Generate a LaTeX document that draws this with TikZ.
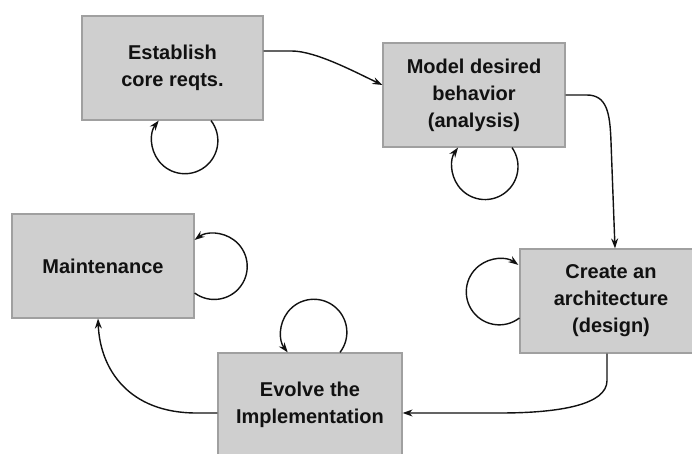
\documentclass[tikz,border=0pt]{standalone}
\usepackage{fontspec}
\setmainfont{Liberation Sans}
\usetikzlibrary{arrows.meta}
\definecolor{boxfill}{HTML}{CFCFCF}
\definecolor{boxline}{HTML}{A0A0A0}
\definecolor{ink}{HTML}{111111}
\tikzset{
  stagebox/.style={draw=boxline, line width=1.2pt, fill=boxfill, minimum width=182pt, minimum height=104pt,
    inner sep=0pt, align=center, text=ink, font=\bfseries\fontsize{20}{27}\selectfont},
  flow/.style={draw=ink, line width=1.4pt, -{Stealth[length=10pt,width=7pt]}},
}
\begin{document}
\begin{tikzpicture}[x=1pt,y=1pt]
\useasboundingbox (0,0) rectangle (692,454);
\clip (0,0) rectangle (692,454);
\fill[white] (0,0) rectangle (692,454);
% boxes
\node[stagebox, minimum width=181pt] (b1) at (172.5,386) {Establish\\core reqts.};
\node[stagebox] (b2) at (474,359) {Model desired\\behavior\\(analysis)};
\node[stagebox] (b3) at (611,153) {Create an\\architecture\\(design)};
\node[stagebox] (b4) at (103,188) {Maintenance};
\node[stagebox, minimum width=184pt] (b5) at (310,49) {Evolve the\\Implementation};
% main flow
\draw[flow] ([yshift=17pt]b1.east) -- ++(28,0) .. controls +(24,0) and (355,382) .. ([yshift=10pt]b2.west);
\draw[flow] (b2.east) -- ++(21,0) .. controls +(20,0) and (610,342) .. (611,312) -- ([xshift=4pt]b3.north);
\draw[flow] ([xshift=-4pt]b3.south) -- ++(0,-27) .. controls +(0,-24) and (560,41) .. (500,41) -- ([yshift=-8pt]b5.east);
\draw[flow] ([yshift=-8pt]b5.west) -- ++(-21,0) .. controls +(-67,0) and (100,84) .. ([xshift=-5pt]b4.south);
% self loops
\draw[flow] ([xshift=38.5pt]b1.south) arc[start angle=37.6, end angle=-217.6, radius=33pt];
\draw[flow] ([xshift=38pt]b2.south) arc[start angle=35.1, end angle=-215.1, radius=33pt];
\draw[flow] ([yshift=-17pt]b3.west) arc[start angle=-52.4, end angle=-305.2, radius=33pt];
\draw[flow] ([yshift=-27pt]b4.east) arc[start angle=-126.5, end angle=126.5, radius=33pt];
\draw[flow] ([xshift=30pt]b5.north) arc[start angle=-37.6, end angle=217.6, radius=33pt];
\end{tikzpicture}
\end{document}
